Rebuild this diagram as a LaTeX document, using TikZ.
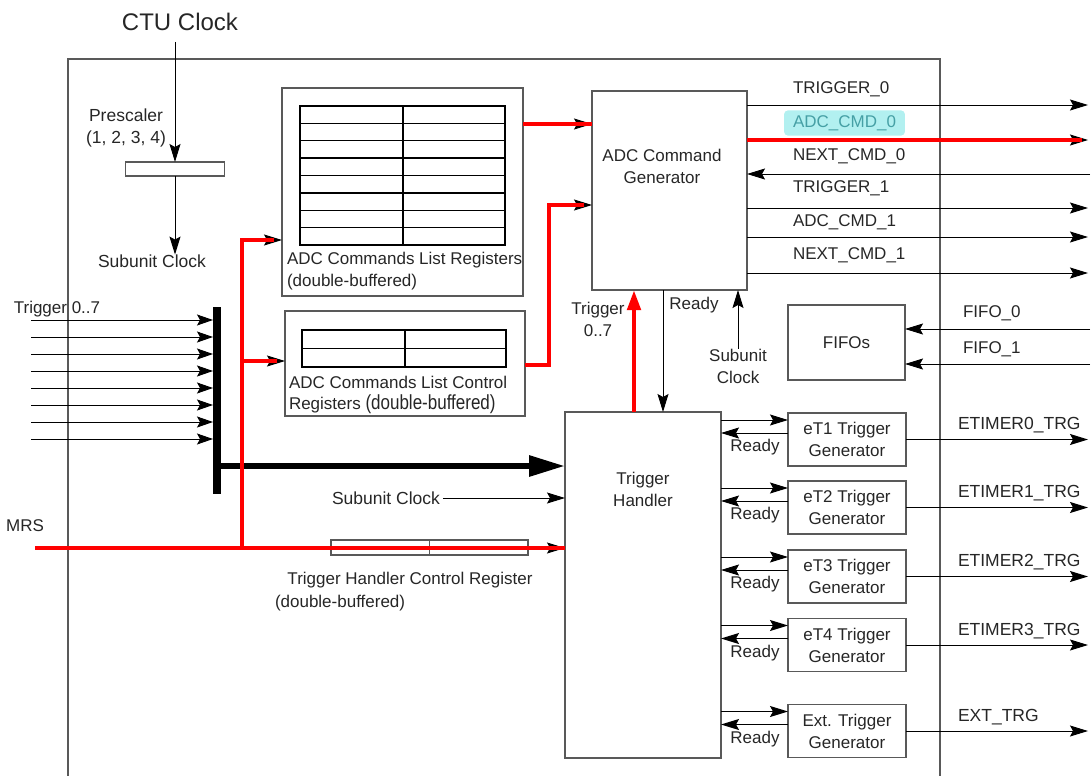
\documentclass[tikz,border=0pt]{standalone}
\usepackage{fontspec}
\setmainfont{Liberation Sans}
\usetikzlibrary{arrows.meta}
\definecolor{hlcyan}{RGB}{178,240,240}
\definecolor{hltext}{RGB}{70,160,165}
\begin{document}
\begin{tikzpicture}[x=1pt,y=-1pt,
  every node/.style={font=\fontsize{17}{22}\selectfont, inner sep=0pt, outer sep=0pt, text=black!85},
  box/.style={draw=black!65, line width=1.2pt},
  tbl/.style={draw=black, line width=1.3pt},
  ln/.style={draw=black, line width=1pt},
  arr/.style={ln, -{Stealth[length=18pt,width=11pt,inset=3pt]}},
  redl/.style={draw=red, line width=4pt},
  bigarr/.style={draw=black, line width=6pt, -{Triangle[length=36pt,width=20pt]}},
  redarr/.style={draw=red, line width=4.5pt, -{Triangle[length=20pt,width=13pt]}}
]
\useasboundingbox (0,0) rectangle (1092,776);
\clip (0,0) rectangle (1092,776);

% outer CTU frame
\node[box, minimum width=872, minimum height=780, anchor=north west] (ctu) at (68,59) {};

% clock and prescaler
\node (ctulbl) at (180,22) {\fontsize{24}{28}\selectfont CTU Clock};
\coordinate (ctuin) at (175,42);
\node[box, minimum width=99, minimum height=14] (pre) at (175,169) {};
\node[align=center] (prelbl) at (126,128) {\fontsize{17.5}{22}\selectfont Prescaler\\\fontsize{17.5}{22}\selectfont (1, 2, 3, 4)};
\draw[arr] (ctuin) -- (pre.north);
\node (sck1) at (152,261) {\fontsize{17.5}{22}\selectfont Subunit Clock};
\draw[arr] (pre.south) -- (pre.south |- sck1.north);

% ADC Commands List Registers
\node[box, minimum width=241, minimum height=208] (cmdreg) at (402.5,192) {};
\draw[tbl] (300,106) rectangle (505,245);
\foreach \i in {1,...,7} \draw[tbl] (300,{106+\i*17.375}) -- (505,{106+\i*17.375});
\draw[tbl] (403,106) -- (403,245);
\node[anchor=west] (cmdregt1) at (287,260) {ADC Commands List Registers};
\node[anchor=west] (cmdregt2) at (287,282) {(double-buffered)};

% ADC Commands List Control Registers
\node[box, minimum width=240, minimum height=105] (ctrlreg) at (405,363.5) {};
\draw[tbl] (302,330) rectangle (506,367);
\draw[tbl] (302,348.5) -- (506,348.5);
\draw[tbl] (405,330) -- (405,367);
\node[anchor=west] (ctrlt1) at (289,382) {ADC Commands List Control};
\node[anchor=west] (ctrlt2) at (289,404) {Registers \scalebox{1}[1.2]{(double-buffered)}};

% ADC Command Generator
\node[box, minimum width=155, minimum height=199] (acg) at (669.5,190.5) {};
\node[align=center] (acgt) at (662,166) {ADC Command\\Generator};

% Trigger Handler
\node[box, minimum width=156, minimum height=346] (th) at (643,585) {};
\node[align=center] (tht) at (643,489) {Trigger\\Handler};

% FIFOs
\node[box, minimum width=117, minimum height=75] (fifo) at (846.5,342.5) {FIFOs};
\coordinate (f0) at (1090,329);
\coordinate (f1) at (1090,364);
\draw[arr] (f0) -- (fifo.east |- f0);
\draw[arr] (f1) -- (fifo.east |- f1);
\node[anchor=west] (f0l) at (963,313) {FIFO\_0};
\node[anchor=west] (f1l) at (963,349) {FIFO\_1};

% ADC command generator outputs
\coordinate (o0) at (1088,105);
\coordinate (o1) at (1088,140);
\coordinate (o2) at (1090,174);
\coordinate (o3) at (1088,208);
\coordinate (o4) at (1088,237);
\coordinate (o5) at (1088,273);
\draw[arr] (acg.east |- o0) -- (o0);
\draw[arr] (acg.east |- o1) -- (o1);
\draw[redl, shorten >=6pt] (acg.east |- o1) -- (o1);
\draw[arr] (o2) -- (acg.east |- o2);
\draw[arr] (acg.east |- o3) -- (o3);
\draw[arr] (acg.east |- o4) -- (o4);
\draw[arr] (acg.east |- o5) -- (o5);
\node[anchor=west] (l0) at (793,89) {TRIGGER\_0};
\node[anchor=west, fill=hlcyan, inner xsep=9pt, inner ysep=5pt, rounded corners=4pt, text=hltext] (l1) at (784,123) {ADC\_CMD\_0};
\node[anchor=west] (l2) at (793,156) {NEXT\_CMD\_0};
\node[anchor=west] (l3) at (793,188) {TRIGGER\_1};
\node[anchor=west] (l4) at (793,222) {ADC\_CMD\_1};
\node[anchor=west] (l5) at (793,255) {NEXT\_CMD\_1};

% between generator and handler
\draw[redarr] (th.north -| 634,0) -- (acg.south -| 634,0);
\draw[arr] (acg.south -| 663,0) -- (th.north -| 663,0);
\node[align=center] (trg07) at (598,319) {Trigger\\0..7};
\node (rdy0) at (694,305) {Ready};
\node[align=center] (sck2) at (738,366) {Subunit\\Clock};
\draw[arr] (sck2.north) -- (sck2.north |- acg.south);

% trigger generators
\node[box, minimum width=118, minimum height=53, align=center] (g1) at (847,439.5) {eT1 Trigger\\Generator};
\node[box, minimum width=118, minimum height=53, align=center] (g2) at (847,507.5) {eT2 Trigger\\Generator};
\node[box, minimum width=118, minimum height=53, align=center] (g3) at (847,576.5) {eT3 Trigger\\Generator};
\node[box, minimum width=118, minimum height=53, align=center] (g4) at (847,645) {eT4 Trigger\\Generator};
\node[box, minimum width=118, minimum height=53, align=center] (g5) at (847,731) {Ext. Trigger\\Generator};
\coordinate (xo) at (1088,0);
\coordinate (xr) at (755,0);
\coordinate (xl) at (958,0);
\foreach \g/\lab in {g1/ETIMER0\_TRG, g2/ETIMER1\_TRG, g3/ETIMER2\_TRG, g4/ETIMER3\_TRG, g5/EXT\_TRG} {
  \coordinate (\g a) at ([yshift=19.5pt]\g.center);
  \coordinate (\g b) at ([yshift=6.5pt]\g.center);
  \coordinate (\g c) at ([yshift=-8pt]\g.center);
  \coordinate (\g d) at ([yshift=14pt]\g.center);
  \coordinate (\g o) at (\g.east -| xo);
  \draw[arr] (th.east |- \g a) -- (\g.west |- \g a);
  \draw[arr] (\g.west |- \g b) -- (th.east |- \g b);
  \node (\g r) at (xr |- \g c) {Ready};
  \draw[arr] (\g.east) -- (\g o);
  \node[anchor=west] (\g l) at (xl |- \g d) {\fontsize{17.5}{22}\selectfont\lab};
}

% trigger inputs and bus bar
\node[fill=black, minimum width=8, minimum height=187] (bar) at (217,400.5) {};
\node (trl) at (57,309) {Trigger 0..7};
\foreach \i in {0,...,7} {
  \coordinate (ti\i) at (31,{320+17*\i});
  \draw[ln, -{Stealth[length=16pt,width=11pt,inset=3pt]}] (ti\i) -- (bar.west |- ti\i);
}
\coordinate (busy) at (0,466);
\draw[bigarr] (bar.east |- busy) -- (th.west |- busy);

% subunit clock into handler
\node (sck3) at (386,498) {\fontsize{17.5}{22}\selectfont Subunit Clock};
\draw[arr, shorten <=3pt] (sck3.east) -- (th.west |- sck3.east);

% MRS and trigger handler control register
\node (mrs) at (25,526) {MRS};
\coordinate (mrsin) at (35,548);
\node[box, minimum width=197, minimum height=15] (thcr) at (429.5,547.5) {};
\draw[box] (thcr.north) -- (thcr.south);
\node (thcrt1) at (410,580) {Trigger Handler Control Register};
\node[anchor=west] (thcrt2) at (275,603) {(double-buffered)};
\draw[arr] (mrsin) -- (th.west |- mrsin);
\draw[redl] (mrsin) -- (th.west |- mrsin);

% MRS branches to register blocks
\coordinate (j1) at (242,548);
\coordinate (ya) at (0,240);
\coordinate (yb) at (0,361);
\draw[arr] (j1 |- ya) -- (cmdreg.west |- ya);
\draw[arr] (j1 |- yb) -- (ctrlreg.west |- yb);
\draw[redl, shorten >=8pt] (j1) -- (j1 |- ya) -- (cmdreg.west |- ya);
\draw[redl, shorten >=8pt] (j1 |- yb) -- (ctrlreg.west |- yb);

% registers into command generator
\coordinate (yc) at (0,124);
\coordinate (yd) at (0,365);
\coordinate (ye) at (0,205);
\coordinate (xk) at (549,0);
\draw[arr] (cmdreg.east |- yc) -- (acg.west |- yc);
\draw[redl] (cmdreg.east |- yc) -- (acg.west |- yc);
\draw[arr] (ctrlreg.east |- yd) -- (xk |- yd) -- (xk |- ye) -- (acg.west |- ye);
\draw[redl, shorten >=8pt] (ctrlreg.east |- yd) -- (xk |- yd) -- (xk |- ye) -- (acg.west |- ye);
\end{tikzpicture}
\end{document}
